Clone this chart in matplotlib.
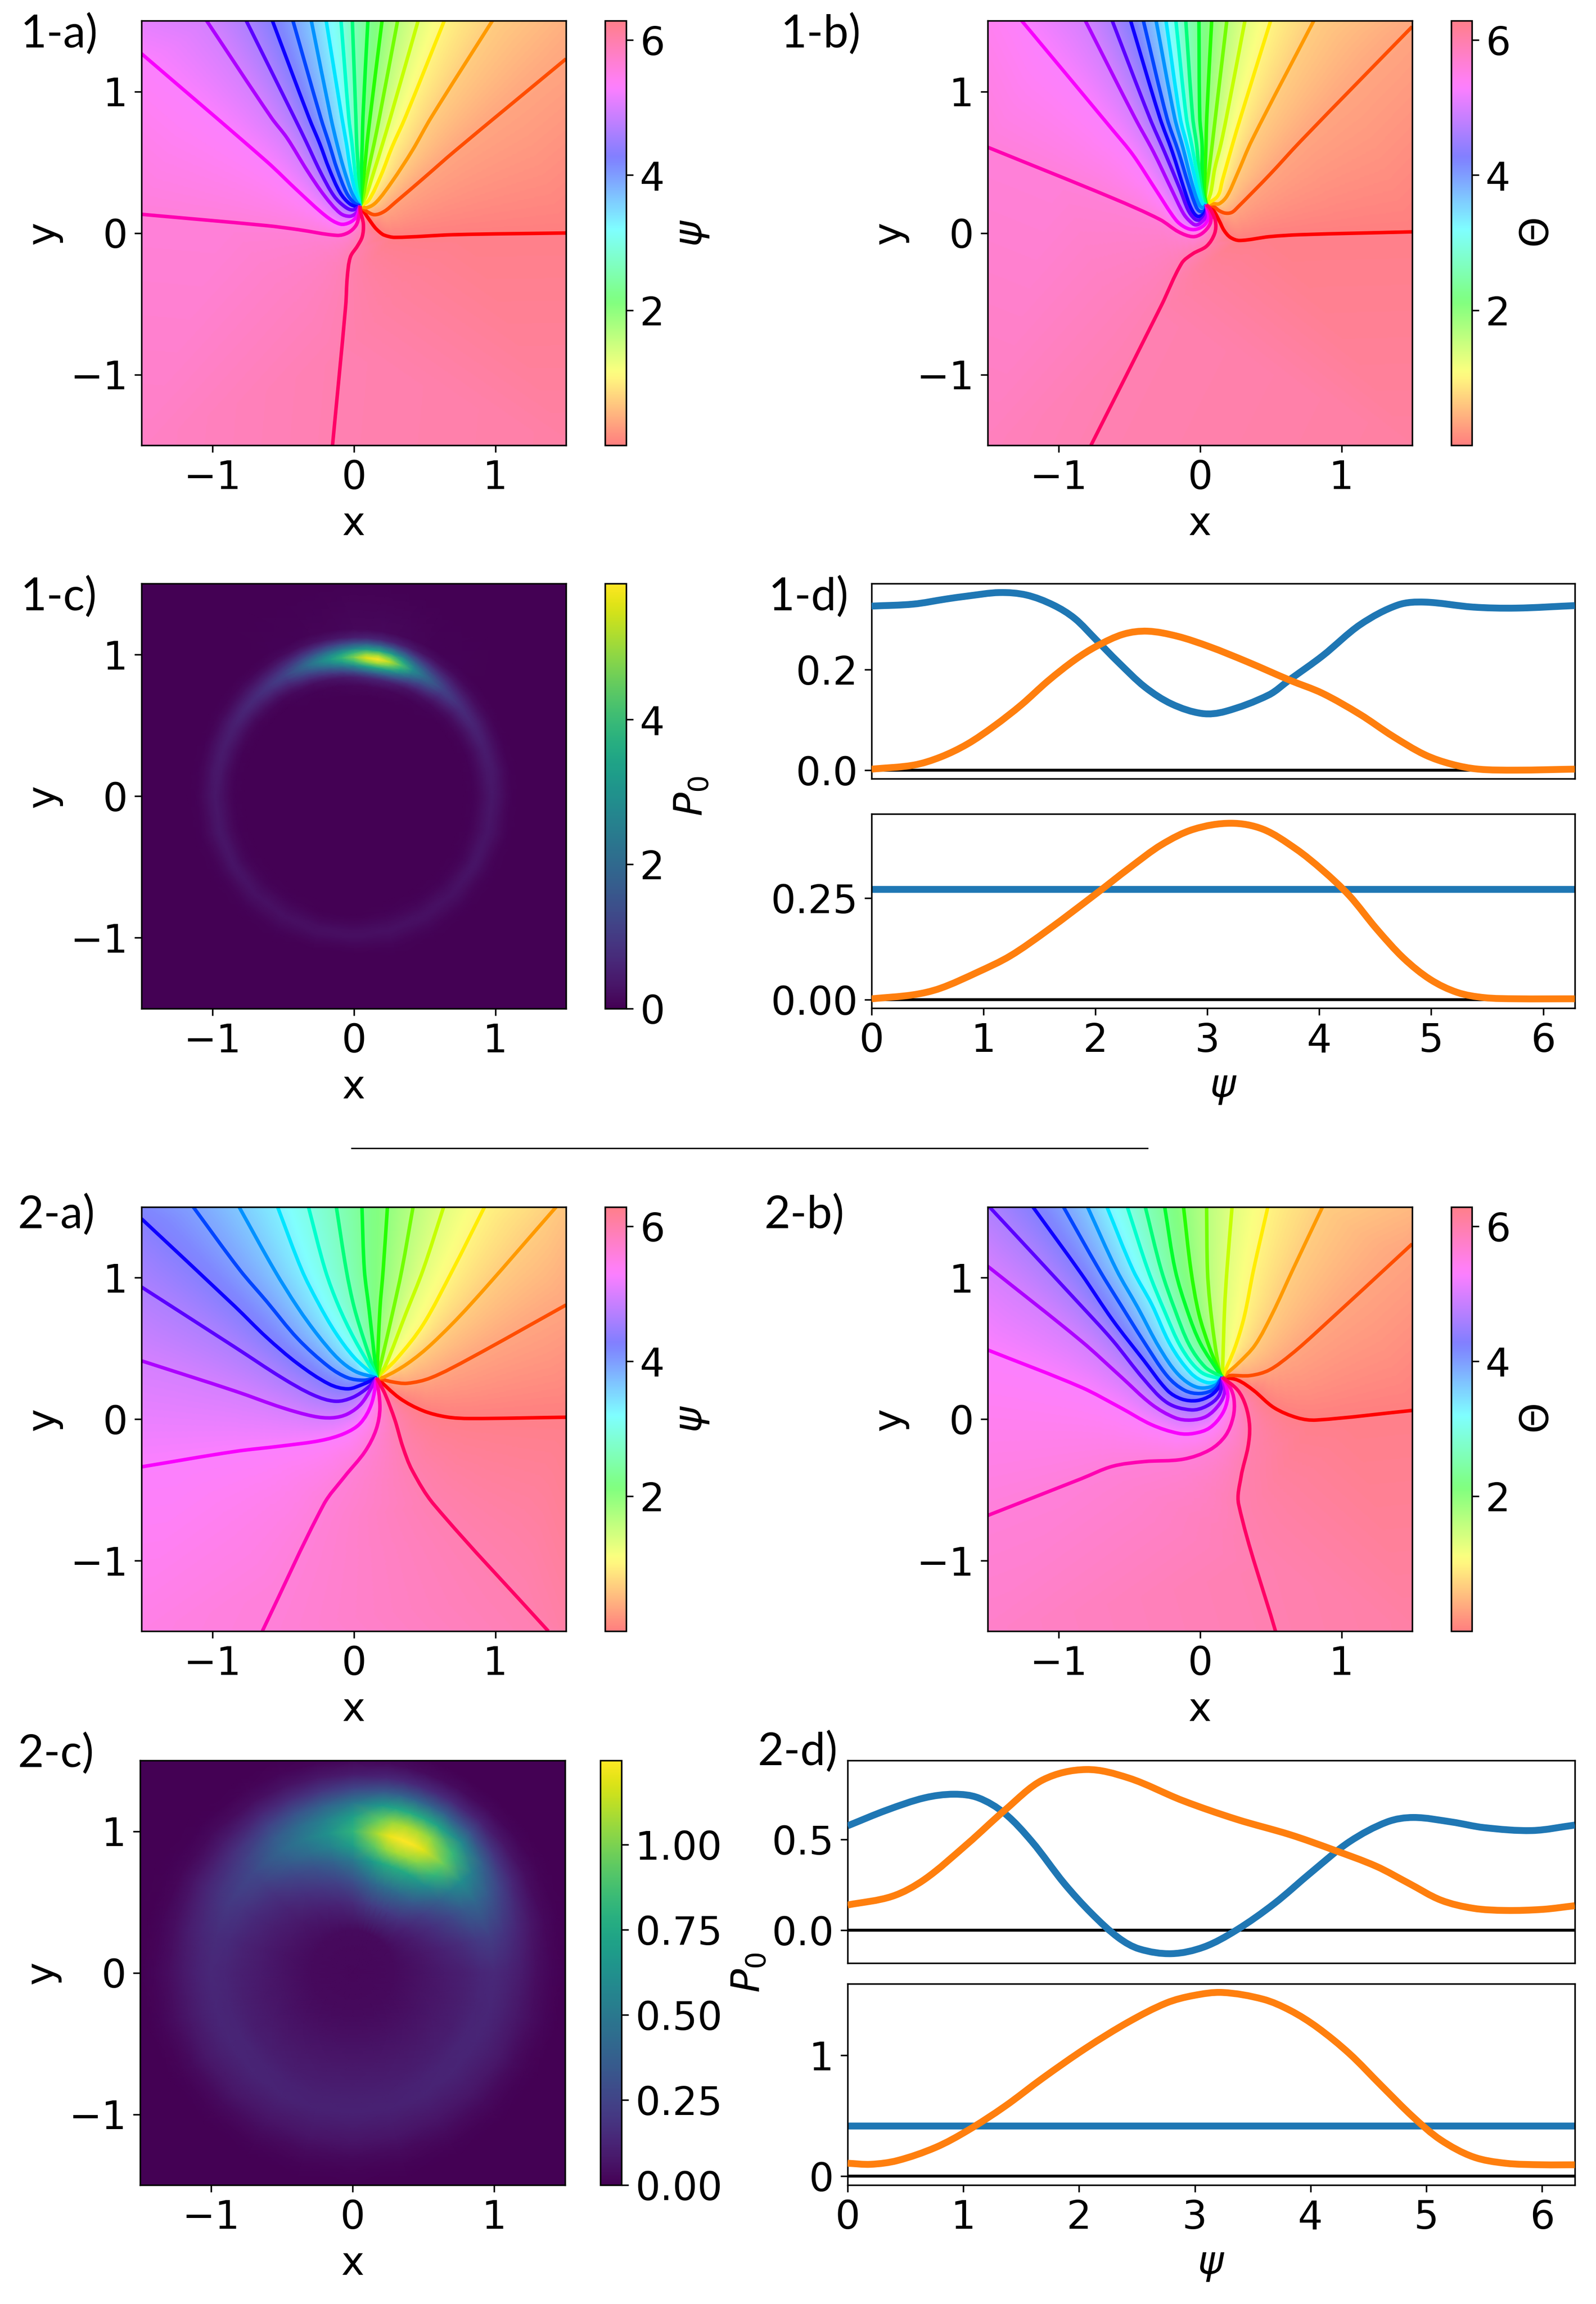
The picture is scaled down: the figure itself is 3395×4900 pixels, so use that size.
#!/usr/bin/env python
"""Phase maps, condensate density and 1d profiles for two parameter sets."""
import matplotlib
matplotlib.use("Agg")
import matplotlib.pyplot as plt
import matplotlib.tri as mtri
from matplotlib.lines import Line2D
from matplotlib.patches import PathPatch
from matplotlib.path import Path
import numpy as np

W, H = 3395, 4900
TWO_PI = 2 * np.pi
N_STEPS = 19  # phase levels: i * 2 pi / 19

# contour lines, index in list = phase level, outer end first, all end at the vortex
CENTER_1A = (0.045, 0.192)
LINES_1A = [
    [(1.5, 0.0), (0.71, -0.012), (0.29, -0.031), (0.215, -0.015), (0.181, 0.008), (0.148, 0.041), (0.093, 0.118)],
    [(1.5, 1.23), (0.713, 0.578), (0.491, 0.385), (0.292, 0.215), (0.215, 0.152), (0.148, 0.129), (0.093, 0.152)],
    [(0.98, 1.5), (0.547, 0.816), (0.414, 0.583), (0.27, 0.362), (0.159, 0.218), (0.093, 0.179)],
    [(0.64, 1.5), (0.364, 0.816), (0.27, 0.606), (0.192, 0.406), (0.104, 0.229)],
    [(0.455, 1.5), (0.259, 0.816), (0.203, 0.628), (0.148, 0.451), (0.082, 0.251)],
    [(0.31, 1.5), (0.181, 0.816), (0.143, 0.628), (0.104, 0.451), (0.06, 0.229)],
    [(0.20, 1.5), (0.115, 0.816), (0.093, 0.628), (0.076, 0.451), (0.054, 0.262)],
    [(0.10, 1.5), (0.065, 0.816), (0.06, 0.628), (0.054, 0.451), (0.048, 0.295)],
    [(-0.01, 1.5), (0.015, 0.816), (0.021, 0.628), (0.032, 0.451), (0.037, 0.295)],
    [(-0.09, 1.5), (-0.035, 0.816), (-0.012, 0.628), (0.004, 0.473), (0.021, 0.318)],
    [(-0.195, 1.5), (-0.084, 0.816), (-0.051, 0.628), (-0.029, 0.484), (0.004, 0.318)],
    [(-0.30, 1.5), (-0.162, 0.816), (-0.118, 0.628), (-0.073, 0.462), (-0.018, 0.295), (0.021, 0.218)],
    [(-0.43, 1.5), (-0.234, 0.816), (-0.173, 0.628), (-0.118, 0.451), (-0.051, 0.284), (0.004, 0.212)],
    [(-0.575, 1.5), (-0.317, 0.816), (-0.239, 0.628), (-0.173, 0.451), (-0.096, 0.284), (-0.029, 0.207), (0.026, 0.185)],
    [(-0.76, 1.5), (-0.42, 0.816), (-0.339, 0.65), (-0.234, 0.428), (-0.14, 0.262), (-0.062, 0.185), (-0.007, 0.163)],
    [(-1.04, 1.5), (-0.583, 0.816), (-0.472, 0.672), (-0.328, 0.439), (-0.206, 0.262), (-0.096, 0.14), (-0.029, 0.118), (0.015, 0.14)],
    [(-1.5, 1.267), (-0.616, 0.506), (-0.394, 0.296), (-0.195, 0.118), (-0.096, 0.063), (-0.029, 0.074), (0.021, 0.118)],
    [(-1.5, 0.132), (-0.616, 0.052), (-0.394, 0.024), (-0.118, -0.017), (-0.04, 0.002), (0.015, 0.052), (0.037, 0.118)],
    [(-0.15, -1.5), (-0.057, -0.513), (-0.046, -0.314), (-0.024, -0.17), (0.026, -0.092), (0.06, -0.026), (0.068, 0.063), (0.048, 0.152)],
]
CORNERS_1A = [(-1.5, 1.5, 15.4), (1.5, 1.5, 1.3), (1.5, -1.5, 18.3), (-1.5, -1.5, 17.5)]

CENTER_1B = (0.045, 0.201)
LINES_1B = [
    [(1.5, 0.008), (0.713, -0.012), (0.491, -0.026), (0.281, -0.053), (0.215, -0.031), (0.17, 0.019), (0.137, 0.085), (0.093, 0.163)],
    [(1.5, 1.458), (0.713, 0.65), (0.491, 0.41), (0.27, 0.185), (0.226, 0.146), (0.181, 0.14), (0.137, 0.157), (0.093, 0.19)],
    [(0.805, 1.5), (0.37, 0.661), (0.259, 0.406), (0.192, 0.262), (0.137, 0.207), (0.093, 0.207)],
    [(0.50, 1.5), (0.287, 0.816), (0.231, 0.628), (0.159, 0.373), (0.126, 0.262)],
    [(0.318, 1.5), (0.187, 0.816), (0.148, 0.628), (0.104, 0.451), (0.076, 0.284)],
    [(0.19, 1.5), (0.109, 0.816), (0.087, 0.628), (0.065, 0.451), (0.037, 0.251)],
    [(0.083, 1.5), (0.048, 0.816), (0.043, 0.628), (0.037, 0.451), (0.032, 0.284)],
    [(-0.007, 1.5), (-0.001, 0.816), (0.015, 0.628), (0.015, 0.451), (0.021, 0.284)],
    [(-0.10, 1.5), (-0.051, 0.816), (-0.024, 0.628), (-0.007, 0.451), (0.015, 0.284), (0.037, 0.207)],
    [(-0.17, 1.5), (-0.096, 0.816), (-0.057, 0.617), (-0.024, 0.44), (0.004, 0.284), (0.026, 0.201)],
    [(-0.24, 1.5), (-0.14, 0.816), (-0.09, 0.617), (-0.04, 0.406), (-0.007, 0.262), (0.021, 0.203)],
    [(-0.31, 1.5), (-0.179, 0.816), (-0.118, 0.595), (-0.062, 0.373), (-0.018, 0.229), (0.015, 0.179)],
    [(-0.40, 1.5), (-0.234, 0.816), (-0.151, 0.572), (-0.084, 0.351), (-0.04, 0.218), (-0.007, 0.157), (0.032, 0.157)],
    [(-0.49, 1.5), (-0.284, 0.816), (-0.195, 0.572), (-0.107, 0.296), (-0.062, 0.174), (-0.018, 0.118), (0.026, 0.135), (0.048, 0.179)],
    [(-0.62, 1.5), (-0.356, 0.816), (-0.25, 0.572), (-0.14, 0.307), (-0.084, 0.163), (-0.04, 0.102), (-0.007, 0.091), (0.032, 0.118), (0.049, 0.163)],
    [(-0.81, 1.5), (-0.461, 0.816), (-0.328, 0.572), (-0.195, 0.296), (-0.118, 0.14), (-0.073, 0.085), (-0.029, 0.057), (0.015, 0.08), (0.05, 0.13)],
    [(-1.26, 1.5), (-0.616, 0.727), (-0.472, 0.55), (-0.306, 0.296), (-0.173, 0.096), (-0.107, 0.041), (-0.04, 0.024), (0.026, 0.052), (0.06, 0.107), (0.051, 0.174)],
    [(-1.5, 0.606), (-0.616, 0.246), (-0.284, 0.096), (-0.151, 0.008), (-0.051, -0.026), (0.015, -0.003), (0.071, 0.063), (0.076, 0.13)],
    [(-0.77, -1.5), (-0.273, -0.513), (-0.129, -0.214), (-0.051, -0.147), (0.048, -0.092), (0.104, -0.003), (0.109, 0.085), (0.071, 0.174)],
]
CORNERS_1B = [(-1.5, 1.5, 16.4), (1.5, 1.5, 1.1), (1.5, -1.5, 18.4), (-1.5, -1.5, 17.7)]

CENTER_2A = (0.163, 0.292)
LINES_2A = [
    [(1.5, 0.013), (0.822, 0.004), (0.656, 0.015), (0.49, 0.059), (0.324, 0.148)],
    [(1.5, 0.807), (0.822, 0.43), (0.545, 0.292), (0.379, 0.253), (0.268, 0.264)],
    [(1.43, 1.5), (0.822, 0.807), (0.556, 0.536), (0.379, 0.392), (0.213, 0.297)],
    [(0.924, 1.5), (0.7, 1.056), (0.49, 0.668), (0.302, 0.425)],
    [(0.635, 1.5), (0.49, 1.056), (0.368, 0.746), (0.224, 0.38)],
    [(0.419, 1.5), (0.34, 1.056), (0.268, 0.724), (0.191, 0.392)],
    [(0.238, 1.5), (0.208, 1.056), (0.185, 0.779)],
    [(0.058, 1.5), (0.075, 1.056), (0.108, 0.779)],
    [(-0.123, 1.5), (-0.053, 1.056), (0.003, 0.79), (0.08, 0.536)],
    [(-0.32, 1.5), (-0.202, 1.056), (-0.108, 0.801), (0.003, 0.569)],
    [(-0.538, 1.5), (-0.368, 1.056), (-0.252, 0.823), (-0.13, 0.613), (0.003, 0.436)],
    [(-0.81, 1.5), (-0.562, 1.056), (-0.396, 0.79), (-0.252, 0.591), (-0.108, 0.425), (0.014, 0.336)],
    [(-1.134, 1.5), (-0.806, 1.056), (-0.618, 0.835), (-0.396, 0.569), (-0.175, 0.369), (-0.042, 0.292), (0.069, 0.275)],
    [(-1.5, 1.417), (-0.839, 0.796), (-0.618, 0.58), (-0.396, 0.392), (-0.175, 0.248), (-0.042, 0.214), (0.069, 0.248)],
    [(-1.5, 0.934), (-0.839, 0.508), (-0.507, 0.292), (-0.285, 0.17), (-0.13, 0.126), (-0.008, 0.153), (0.102, 0.225)],
    [(-1.5, 0.412), (-0.839, 0.198), (-0.507, 0.081), (-0.285, 0.02), (-0.152, 0.009), (-0.042, 0.037), (0.058, 0.115)],
    [(-1.5, -0.338), (-0.839, -0.229), (-0.507, -0.19), (-0.23, -0.151), (-0.064, -0.101), (0.047, -0.029), (0.124, 0.104)],
    [(-0.646, -1.5), (-0.213, -0.605), (-0.064, -0.406), (0.08, -0.229), (0.158, -0.074), (0.185, 0.081)],
    [(1.375, -1.5), (0.567, -0.605), (0.412, -0.361), (0.346, -0.195), (0.291, -0.007), (0.224, 0.17)],
]
CORNERS_2A = [(-1.5, 1.5, 12.7), (1.5, 1.5, 1.8), (1.5, -1.5, 18.3), (-1.5, -1.5, 16.7)]

CENTER_2B = (0.158, 0.297)
LINES_2B = [
    [(1.5, 0.061), (0.822, -0.007), (0.689, 0.009), (0.523, 0.081), (0.379, 0.203), (0.268, 0.275)],
    [(1.5, 1.239), (0.822, 0.613), (0.645, 0.458), (0.49, 0.347), (0.357, 0.308), (0.213, 0.308)],
    [(0.866, 1.5), (0.656, 1.056), (0.512, 0.746), (0.39, 0.524), (0.268, 0.392)],
    [(0.48, 1.5), (0.379, 1.056), (0.313, 0.724), (0.246, 0.502)],
    [(0.227, 1.5), (0.191, 1.056), (0.174, 0.779), (0.16, 0.35)],
    [(0.047, 1.5), (0.053, 1.056), (0.069, 0.835), (0.102, 0.558), (0.141, 0.325)],
    [(-0.116, 1.5), (-0.064, 1.056), (-0.008, 0.746), (0.069, 0.502), (0.147, 0.314)],
    [(-0.249, 1.5), (-0.175, 1.056), (-0.086, 0.757), (0.003, 0.536), (0.14, 0.32)],
    [(-0.386, 1.5), (-0.274, 1.056), (-0.175, 0.768), (-0.075, 0.524), (0.036, 0.369), (0.14, 0.305)],
    [(-0.513, 1.5), (-0.368, 1.056), (-0.252, 0.768), (-0.13, 0.502), (0.003, 0.336), (0.135, 0.288)],
    [(-0.657, 1.5), (-0.474, 1.056), (-0.341, 0.812), (-0.208, 0.524), (-0.064, 0.325), (0.047, 0.259), (0.136, 0.27)],
    [(-0.794, 1.5), (-0.59, 1.056), (-0.44, 0.79), (-0.285, 0.502), (-0.152, 0.314), (-0.02, 0.225), (0.102, 0.237)],
    [(-0.964, 1.5), (-0.712, 1.056), (-0.562, 0.812), (-0.396, 0.547), (-0.23, 0.303), (-0.108, 0.203), (0.003, 0.181), (0.102, 0.214)],
    [(-1.18, 1.5), (-0.839, 1.028), (-0.618, 0.702), (-0.396, 0.414), (-0.23, 0.203), (-0.13, 0.142), (-0.02, 0.131), (0.08, 0.17), (0.141, 0.237)],
    [(-1.487, 1.5), (-0.839, 0.801), (-0.618, 0.558), (-0.396, 0.281), (-0.23, 0.115), (-0.064, 0.065), (0.047, 0.092), (0.136, 0.17)],
    [(-1.5, 1.081), (-0.839, 0.552), (-0.562, 0.303), (-0.341, 0.104), (-0.175, 0.009), (-0.064, -0.007), (0.047, 0.02), (0.136, 0.104), (0.174, 0.192)],
    [(-1.5, 0.489), (-0.839, 0.225), (-0.562, 0.081), (-0.341, -0.04), (-0.152, -0.101), (-0.042, -0.101), (0.069, -0.062), (0.158, 0.037), (0.196, 0.148), (0.185, 0.237)],
    [(-1.5, -0.682), (-0.839, -0.422), (-0.618, -0.334), (-0.396, -0.301), (-0.119, -0.284), (0.069, -0.218), (0.18, -0.118), (0.235, 0.015), (0.241, 0.137), (0.213, 0.225)],
    [(0.534, -1.5), (0.274, -0.605), (0.291, -0.406), (0.34, -0.195), (0.351, -0.051), (0.324, 0.092), (0.268, 0.203)],
]
CORNERS_2B = [(-1.5, 1.5, 14.0), (1.5, 1.5, 1.5), (1.5, -1.5, 18.3), (-1.5, -1.5, 17.4)]

# density on the ring: angle (deg) around the ring, peak value per angle, radial shape
ANGLES_1C = [-180, -165, -150, -135, -120, -105, -90, -75, -60, -45, -30, -15, 0, 10, 20, 30, 40, 50, 60, 65, 70, 75, 80, 85,
             90, 95, 100, 105, 110, 120, 127, 135, 142, 150, 160, 170, 180]
PEAK_1C = [0.35, 0.33, 0.3, 0.27, 0.24, 0.22, 0.22, 0.23, 0.25, 0.27, 0.3, 0.32, 0.35, 0.39, 0.45, 0.57, 0.75, 1.15, 2.1, 2.9, 4.2, 5.3, 5.88, 5.6,
           4.7, 3.9, 3.2, 2.6, 2.0, 1.15, 0.9, 0.7, 0.6, 0.5, 0.43, 0.38, 0.35]
RADII_1C = [0, 0.7, 0.78, 0.84, 0.88, 0.92, 0.95, 0.98, 1.01, 1.04, 1.08, 1.12, 1.18, 1.5, 2.5]
SHAPE_1C = [0, 0, 0.02, 0.1, 0.3, 0.6, 0.85, 1, 0.85, 0.6, 0.3, 0.1, 0.02, 0, 0]
FLOOR_1C = [0] * 15

ANGLES_2C = [-180, -165, -150, -135, -120, -105, -90, -75, -60, -45, -30, -15, 0, 15, 30, 40, 50, 60, 65, 70, 75, 80, 90,
             100, 110, 120, 135, 150, 165, 180]
PEAK_2C = [0.13, 0.125, 0.12, 0.115, 0.11, 0.105, 0.105, 0.105, 0.11, 0.115, 0.12, 0.125, 0.135, 0.22, 0.4, 0.6, 0.95, 1.18, 1.23, 1.245, 1.2, 1.08, 0.8,
           0.62, 0.5, 0.4, 0.26, 0.2, 0.15, 0.13]
RADII_2C = [0, 0.3, 0.5, 0.65, 0.8, 0.9, 1.0, 1.1, 1.2, 1.3, 1.4, 1.5, 1.6, 2.5]
SHAPE_2C = [0, 0, 0.15, 0.33, 0.6, 0.85, 1, 0.88, 0.62, 0.32, 0.12, 0.03, 0, 0]
FLOOR_2C = [0.02, 0.03, 0.04, 0.04, 0.03, 0.02, 0.01, 0, 0, 0, 0, 0, 0, 0]

# 1d profiles
PSI_1D_TOP_BLUE = [0, 0.375, 0.663, 0.856, 1.144, 1.385, 1.625, 1.817, 2.01, 2.2, 2.44, 2.68, 2.95, 3.16, 3.55, 3.74, 4.03, 4.365, 4.70, 4.94, 5.375, 5.76, 6.283]
VAL_1D_TOP_BLUE = [0.327, 0.331, 0.341, 0.347, 0.354, 0.349, 0.329, 0.302, 0.259, 0.216, 0.166, 0.132, 0.113, 0.117, 0.15, 0.181, 0.228, 0.29, 0.329, 0.335, 0.325, 0.323, 0.328]
PSI_1D_TOP_ORANGE = [0, 0.375, 0.615, 0.856, 1.096, 1.337, 1.577, 1.817, 2.01, 2.25, 2.466, 2.73, 3.02, 3.356, 3.74, 4.03, 4.365, 4.654, 4.94, 5.18, 5.42, 5.76, 6.283]
VAL_1D_TOP_ORANGE = [0.002, 0.01, 0.026, 0.052, 0.088, 0.13, 0.178, 0.22, 0.247, 0.271, 0.277, 0.267, 0.246, 0.216, 0.179, 0.153, 0.111, 0.068, 0.031, 0.012, 0.002, 0.0, 0.002]
PSI_1D_BOT = [0, 0.375, 0.615, 0.95, 1.24, 1.577, 2.01, 2.3, 2.59, 2.875, 3.21, 3.5, 3.79, 4.03, 4.27, 4.51, 4.75, 4.99, 5.23, 5.47, 5.76, 6.283]
VAL_1D_BOT = [0.002, 0.012, 0.028, 0.068, 0.108, 0.172, 0.262, 0.324, 0.382, 0.42, 0.435, 0.42, 0.372, 0.319, 0.256, 0.175, 0.103, 0.05, 0.018, 0.005, 0.002, 0.002]
LEVEL_1D_BOT = 0.273

PSI_2D_TOP_BLUE = [0, 0.34, 0.665, 0.92, 1.13, 1.36, 1.594, 1.87, 2.105, 2.34, 2.52, 2.8, 3.08, 3.36, 3.685, 4.01, 4.335, 4.66, 4.89, 5.22, 5.5, 5.915, 6.283]
VAL_2D_TOP_BLUE = [0.576, 0.663, 0.73, 0.75, 0.73, 0.643, 0.488, 0.26, 0.095, -0.04, -0.102, -0.128, -0.091, 0.002, 0.147, 0.322, 0.488, 0.597, 0.622, 0.597, 0.566, 0.55, 0.58]
PSI_2D_TOP_ORANGE = [0, 0.386, 0.665, 1.036, 1.36, 1.687, 2.06, 2.43, 2.895, 3.36, 3.824, 4.196, 4.568, 4.847, 5.125, 5.404, 5.683, 6.008, 6.283]
VAL_2D_TOP_ORANGE = [0.14, 0.188, 0.281, 0.477, 0.663, 0.829, 0.886, 0.839, 0.715, 0.612, 0.527, 0.444, 0.353, 0.26, 0.167, 0.122, 0.11, 0.116, 0.136]
PSI_2D_BOT = [0, 0.2, 0.43, 0.76, 1.036, 1.36, 1.687, 2.06, 2.43, 2.755, 2.99, 3.24, 3.59, 3.824, 4.057, 4.335, 4.61, 4.89, 5.125, 5.404, 5.683, 6.008, 6.283]
VAL_2D_BOT = [0.106, 0.097, 0.128, 0.237, 0.377, 0.579, 0.813, 1.062, 1.28, 1.436, 1.498, 1.523, 1.467, 1.374, 1.234, 1.016, 0.751, 0.486, 0.299, 0.159, 0.106, 0.093, 0.093]
LEVEL_2D_BOT = 0.417

plt.rcParams["font.size"] = 20
plt.rcParams["font.family"] = "DejaVu Sans"


def px_axes(fig, left, top, right, bottom):
    return fig.add_axes([left / W, 1 - bottom / H, (right - left) / W, (bottom - top) / H])


def smooth_line(ax, xs, ys, **kw):
    """Draw a line through the read points with bezier segments so it does not show kinks."""
    p = np.c_[xs, ys].astype(float)
    d = np.diff(p, axis=0)
    seg = np.hypot(d[:, 0], d[:, 1])
    tang = np.zeros_like(p)
    mid = p[2:] - p[:-2]
    tang[1:-1] = mid / np.hypot(mid[:, 0], mid[:, 1])[:, None]
    tang[0] = d[0] / seg[0]
    tang[-1] = d[-1] / seg[-1]
    verts = [p[0]]
    codes = [Path.MOVETO]
    for i in range(len(seg)):
        verts += [p[i] + tang[i] * seg[i] / 3, p[i + 1] - tang[i + 1] * seg[i] / 3, p[i + 1]]
        codes += [Path.CURVE4] * 3
    patch = PathPatch(Path(verts, codes), fill=False, joinstyle="round", **kw)
    ax.add_patch(patch)
    return patch


def phase_field(lines, corners, n=500):
    """Rebuild the phase background from the read contour lines."""
    xs, ys, lv = [], [], []
    for idx, pts in enumerate(lines):
        for (x0, y0), (x1, y1) in zip(pts[:-1], pts[1:]):
            k = max(1, int(np.hypot(x1 - x0, y1 - y0) / 0.04))
            for t in np.arange(k) / k:
                xs.append(x0 + t * (x1 - x0))
                ys.append(y0 + t * (y1 - y0))
                lv.append(idx)
        xs.append(pts[-1][0])
        ys.append(pts[-1][1])
        lv.append(idx)
    for x, y, v in corners:
        xs.append(x)
        ys.append(y)
        lv.append(v)
    xy = np.round(np.c_[xs, ys], 4)
    xy, keep = np.unique(xy, axis=0, return_index=True)
    phi = np.array(lv)[keep] * TWO_PI / N_STEPS
    tri = mtri.Triangulation(xy[:, 0], xy[:, 1])
    gx, gy = np.meshgrid(np.linspace(-1.5, 1.5, n), np.linspace(-1.5, 1.5, n))
    c = mtri.LinearTriInterpolator(tri, np.cos(phi))(gx, gy)
    s = mtri.LinearTriInterpolator(tri, np.sin(phi))(gx, gy)
    return np.mod(np.arctan2(s.filled(0), c.filled(1)), TWO_PI)


def square_axes(ax):
    ax.set_xlim(-1.5, 1.5)
    ax.set_ylim(-1.5, 1.5)
    ax.set_xticks([-1, 0, 1])
    ax.set_yticks([-1, 0, 1])
    ax.set_xlabel("x")
    ax.set_ylabel("y")


def plot_phase(fig, box, cbox, lines, center, corners, label):
    ax = px_axes(fig, *box)
    field = phase_field(lines, corners)
    im = ax.imshow(field, extent=(-1.5, 1.5, -1.5, 1.5), origin="lower", cmap="hsv",
                   vmin=0, vmax=TWO_PI, alpha=0.5, aspect="auto", interpolation="bilinear")
    cmap = plt.get_cmap("hsv")
    for idx, pts in enumerate(lines):
        xs = [p[0] for p in pts] + [center[0]]
        ys = [p[1] for p in pts] + [center[1]]
        smooth_line(ax, xs, ys, edgecolor=cmap(idx / N_STEPS), lw=1.8)
    square_axes(ax)
    cax = px_axes(fig, *cbox)
    cb = fig.colorbar(im, cax=cax)
    cb.set_ticks([2, 4, 6])
    cb.set_label(label)


def plot_density(fig, box, cbox, angles, peak, radii, shape, floor, vmax, ticks, ticklabels):
    ax = px_axes(fig, *box)
    th = np.deg2rad(angles)
    rr = np.array(radii)
    X = np.outer(rr, np.cos(th))
    Y = np.outer(rr, np.sin(th))
    Z = np.outer(shape, peak) + np.array(floor)[:, None]
    mesh = ax.pcolormesh(X, Y, Z, cmap="viridis", vmin=0, vmax=vmax, shading="gouraud")
    ax.set_facecolor(plt.get_cmap("viridis")(0.0))
    square_axes(ax)
    ax.set_aspect("auto")
    cax = px_axes(fig, *cbox)
    cb = fig.colorbar(mesh, cax=cax)
    cb.set_ticks(ticks)
    cb.set_ticklabels(ticklabels)
    cb.set_label(r"$P_0$")


def plot_profiles(ax, series, level_line, ylim, yticks, yticklabels):
    ax.axhline(0, color="k", lw=1.5)
    if level_line is not None:
        ax.axhline(level_line, color="C0", lw=3.5)
    for xs, ys, col in series:
        smooth_line(ax, xs, ys, edgecolor=col, lw=3.5, zorder=3)
    ax.set_xlim(0, TWO_PI)
    ax.set_ylim(*ylim)
    ax.set_yticks(yticks)
    ax.set_yticklabels(yticklabels)


def panel_tag(fig, x, y, text):
    fig.text(x / W, 1 - y / H, text, family=["Lato", "DejaVu Sans"],
             fontsize=23, ha="left", va="center")


def main():
    fig = plt.figure(figsize=(W / 300, H / 300), dpi=300)

    plot_phase(fig, (301, 44, 1204, 947), (1287, 44, 1332, 947), LINES_1A, CENTER_1A, CORNERS_1A, r"$\psi$")
    plot_phase(fig, (2101, 44, 3004, 947), (3087, 44, 3131, 947), LINES_1B, CENTER_1B, CORNERS_1B, r"$\Theta$")
    plot_phase(fig, (301, 2567, 1204, 3469), (1287, 2567, 1332, 3469), LINES_2A, CENTER_2A, CORNERS_2A, r"$\psi$")
    plot_phase(fig, (2101, 2567, 3004, 3469), (3087, 2567, 3131, 3469), LINES_2B, CENTER_2B, CORNERS_2B, r"$\Theta$")

    plot_density(fig, (301, 1241, 1204, 2145), (1287, 1241, 1332, 2145), ANGLES_1C, PEAK_1C, RADII_1C,
                 SHAPE_1C, FLOOR_1C, 5.88, [0, 2, 4], ["0", "2", "4"])
    plot_density(fig, (298, 3744, 1202, 4647), (1277, 3744, 1322, 4647), ANGLES_2C, PEAK_2C, RADII_2C,
                 SHAPE_2C, FLOOR_2C, 1.248, [0, 0.25, 0.5, 0.75, 1.0], ["0.00", "0.25", "0.50", "0.75", "1.00"])

    ax = px_axes(fig, 1854, 1241, 3350, 1656)
    plot_profiles(ax, [(PSI_1D_TOP_BLUE, VAL_1D_TOP_BLUE, "C0"), (PSI_1D_TOP_ORANGE, VAL_1D_TOP_ORANGE, "C1")],
                  None, (-0.017, 0.372), [0, 0.2], ["0.0", "0.2"])
    ax.set_xticks([])
    ax = px_axes(fig, 1854, 1731, 3350, 2144)
    plot_profiles(ax, [(PSI_1D_BOT, VAL_1D_BOT, "C1")], LEVEL_1D_BOT, (-0.021, 0.458), [0, 0.25], ["0.00", "0.25"])
    ax.set_xticks(range(7))
    ax.set_xlabel(r"$\psi$")

    ax = px_axes(fig, 1803, 3744, 3350, 4175)
    plot_profiles(ax, [(PSI_2D_TOP_BLUE, VAL_2D_TOP_BLUE, "C0"), (PSI_2D_TOP_ORANGE, VAL_2D_TOP_ORANGE, "C1")],
                  None, (-0.18, 0.936), [0, 0.5], ["0.0", "0.5"])
    ax.set_xticks([])
    ax = px_axes(fig, 1803, 4219, 3350, 4647)
    plot_profiles(ax, [(PSI_2D_BOT, VAL_2D_BOT, "C1")], LEVEL_2D_BOT, (-0.075, 1.595), [0, 1], ["0", "1"])
    ax.set_xticks(range(7))
    ax.set_xlabel(r"$\psi$")

    fig.add_artist(Line2D([748 / W, 2441 / W], [1 - 2442 / H, 1 - 2442 / H], color="k", lw=0.7))

    panel_tag(fig, 43, 73, "1-a)")
    panel_tag(fig, 1660, 73, "1-b)")
    panel_tag(fig, 43, 1270, "1-c)")
    panel_tag(fig, 1634, 1270, "1-d)")
    panel_tag(fig, 37, 2584, "2-a)")
    panel_tag(fig, 1626, 2584, "2-b)")
    panel_tag(fig, 37, 3730, "2-c)")
    panel_tag(fig, 1611, 3726, "2-d)")

    fig.savefig("out.png", dpi=300)
    plt.close(fig)


if __name__ == "__main__":
    main()
